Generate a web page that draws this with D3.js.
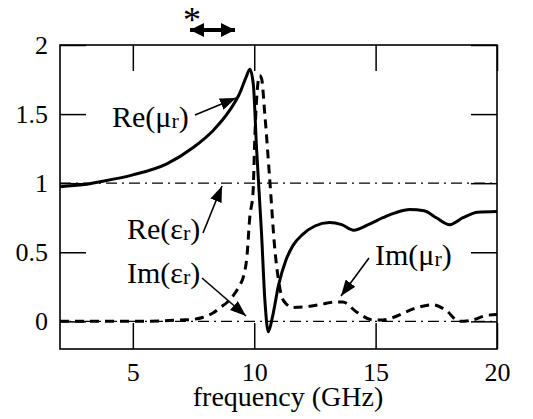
<!DOCTYPE html>
<html>
<head>
<meta charset="utf-8">
<script src="https://cdn.jsdelivr.net/npm/d3@7"></script>
<style>
  body { margin: 0; background: #fff; }
  svg text { font-family: "Liberation Serif", "Times New Roman", serif; }
</style>
</head>
<body>
<div id="chart"></div>
<script>
var svgWidth = 533;
var svgHeight = 419;

// plot box in pixels
var margin = { top: 45, right: 36, bottom: 70, left: 60 };
var width = svgWidth - margin.left - margin.right;
var height = svgHeight - margin.top - margin.bottom;

// Re(mu_r): solid line
var reMuFreq = [2.0, 3.0, 3.65, 5.0, 6.4, 7.5, 8.3, 9.0, 9.4, 9.65, 9.82, 9.96, 10.1, 10.3, 10.44, 10.58, 10.75, 11.0, 11.3, 11.6, 12.0, 12.5, 13.1, 13.6, 14.1, 14.7, 15.3, 15.8, 16.4, 17.0, 17.5, 18.05, 18.6, 19.2, 20.0];
var reMu = [0.975, 0.99, 1.01, 1.06, 1.14, 1.26, 1.38, 1.53, 1.65, 1.76, 1.825, 1.72, 1.24, 0.64, 0.15, -0.075, 0.03, 0.26, 0.44, 0.55, 0.63, 0.69, 0.715, 0.70, 0.66, 0.70, 0.75, 0.785, 0.81, 0.80, 0.75, 0.70, 0.75, 0.79, 0.795];

// Im(mu_r): dashed line
var imMuFreq = [2.0, 5.0, 7.0, 7.5, 7.9, 8.3, 8.6, 8.9, 9.15, 9.4, 9.55, 9.7, 9.82, 9.95, 10.03, 10.15, 10.22, 10.3, 10.44, 10.65, 10.85, 11.0, 11.13, 11.3, 11.6, 12.3, 12.8, 13.3, 13.65, 14.2, 14.9, 15.3, 15.75, 16.55, 17.35, 17.9, 18.45, 19.0, 19.5, 20.0];
var imMu = [0.0, 0.0, 0.01, 0.015, 0.03, 0.06, 0.10, 0.14, 0.19, 0.26, 0.32, 0.47, 0.76, 0.93, 1.36, 1.72, 1.78, 1.76, 1.49, 1.0, 0.52, 0.3, 0.18, 0.13, 0.10, 0.11, 0.125, 0.14, 0.14, 0.07, 0.01, 0.01, 0.03, 0.09, 0.12, 0.08, 0.0, 0.01, 0.04, 0.05];

// Re(eps_r) and Im(eps_r): dash-dot lines
var epsFreq = [2, 20];
var reEps = [1, 1];
var imEps = [0, 0];

var xTicks = [5, 10, 15, 20];
var yTicks = [0, 0.5, 1, 1.5, 2];

var serif = "'Liberation Serif', 'Times New Roman', serif";

var svg = d3.select("#chart")
  .append("svg")
  .attr("width", svgWidth)
  .attr("height", svgHeight);

var chartGroup = svg.append("g")
  .attr("transform", `translate(${margin.left}, ${margin.top})`);

var xScale = d3.scaleLinear().domain([2, 20]).range([0, width]);
var yScale = d3.scaleLinear().domain([-0.2, 2]).range([height, 0]);

// axes with inward ticks on all four sides
var bottomAxis = d3.axisBottom(xScale).tickValues(xTicks).tickSizeInner(-26).tickSizeOuter(0);
var topAxis = d3.axisTop(xScale).tickValues(xTicks).tickSizeInner(-26).tickSizeOuter(0).tickFormat("");
var leftAxis = d3.axisLeft(yScale).tickValues(yTicks).tickSizeInner(-26).tickSizeOuter(0).tickFormat(d3.format(""));
var rightAxis = d3.axisRight(yScale).tickValues(yTicks).tickSizeInner(-26).tickSizeOuter(0).tickFormat("");

var xAxisG = chartGroup.append("g")
  .attr("transform", `translate(0, ${height})`)
  .call(bottomAxis);
chartGroup.append("g").call(topAxis);
var yAxisG = chartGroup.append("g").call(leftAxis);
chartGroup.append("g").attr("transform", `translate(${width}, 0)`).call(rightAxis);

chartGroup.selectAll(".domain").remove();
chartGroup.selectAll("g").attr("font-family", null);
chartGroup.selectAll(".tick line").attr("stroke", "#000").attr("stroke-width", 1.5);

xAxisG.selectAll("text")
  .attr("y", 14)
  .style("font-family", serif)
  .style("font-size", "26px")
  .attr("fill", "#000");

yAxisG.selectAll("text")
  .attr("x", -12)
  .style("font-family", serif)
  .style("font-size", "26px")
  .attr("fill", "#000");

// frame
chartGroup.append("rect")
  .attr("width", width)
  .attr("height", height)
  .attr("fill", "none")
  .attr("stroke", "#000")
  .attr("stroke-width", 1.6);

var line = d3.line()
  .x(d => xScale(d[0]))
  .y(d => yScale(d[1]));

// eps lines
[reEps, imEps].forEach(function(vals) {
  chartGroup.append("path")
    .datum(d3.zip(epsFreq, vals))
    .attr("d", line.curve(d3.curveLinear))
    .attr("fill", "none")
    .attr("stroke", "#000")
    .attr("stroke-width", 1.2)
    .attr("stroke-dasharray", "11,5,2,5");
});

// Im(mu_r)
chartGroup.append("path")
  .datum(d3.zip(imMuFreq, imMu))
  .attr("d", line.curve(d3.curveMonotoneX))
  .attr("fill", "none")
  .attr("stroke", "#000")
  .attr("stroke-width", 3)
  .attr("stroke-dasharray", "9,6");

// Re(mu_r)
chartGroup.append("path")
  .datum(d3.zip(reMuFreq, reMu))
  .attr("d", line.curve(d3.curveMonotoneX))
  .attr("fill", "none")
  .attr("stroke", "#000")
  .attr("stroke-width", 3);

// x axis title
svg.append("text")
  .attr("x", 288)
  .attr("y", 406)
  .attr("text-anchor", "middle")
  .style("font-family", serif)
  .style("font-size", "28px")
  .text("frequency (GHz)");

// arrowhead marker
var defs = svg.append("defs");
defs.append("marker")
  .attr("id", "head")
  .attr("markerUnits", "userSpaceOnUse")
  .attr("viewBox", "0 0 16 12")
  .attr("refX", 16)
  .attr("refY", 6)
  .attr("markerWidth", 16)
  .attr("markerHeight", 12)
  .attr("orient", "auto-start-reverse")
  .append("path")
  .attr("d", "M0,0 L16,6 L0,12 Z")
  .attr("fill", "#000");

// curve labels
var labels = [
  { main: "Re(μ", x: 112, y: 127, ax1: 195, ay1: 115, ax2: 236, ay2: 98 },
  { main: "Re(ε", x: 127, y: 239, ax1: 203, ay1: 233, ax2: 222, ay2: 186 },
  { main: "Im(ε", x: 127, y: 283, ax1: 202, ay1: 278, ax2: 246, ay2: 316 },
  { main: "Im(μ", x: 375, y: 265, ax1: 369, ay1: 258, ax2: 341, ay2: 296 }
];

labels.forEach(function(l) {
  var t = svg.append("text")
    .attr("x", l.x)
    .attr("y", l.y)
    .style("font-family", serif)
    .style("font-size", "30px");
  t.append("tspan").text(l.main);
  t.append("tspan").style("font-size", "22px").attr("dy", 1).text("r");
  t.append("tspan").attr("dy", -1).text(")");

  svg.append("line")
    .attr("x1", l.ax1).attr("y1", l.ay1)
    .attr("x2", l.ax2).attr("y2", l.ay2)
    .attr("stroke", "#000")
    .attr("stroke-width", 1.6)
    .attr("marker-end", "url(#head)");
});

// "*" with double arrow above the plot
svg.append("text")
  .attr("x", 192)
  .attr("y", 32)
  .attr("text-anchor", "middle")
  .style("font-family", serif)
  .style("font-size", "36px")
  .text("*");

defs.append("marker")
  .attr("id", "head2")
  .attr("markerUnits", "userSpaceOnUse")
  .attr("viewBox", "0 0 14 14")
  .attr("refX", 14)
  .attr("refY", 7)
  .attr("markerWidth", 14)
  .attr("markerHeight", 14)
  .attr("orient", "auto-start-reverse")
  .append("path")
  .attr("d", "M0,0 L14,7 L0,14 Z")
  .attr("fill", "#000");

svg.append("line")
  .attr("x1", 190).attr("y1", 30)
  .attr("x2", 235).attr("y2", 30)
  .attr("stroke", "#000")
  .attr("stroke-width", 4)
  .attr("marker-start", "url(#head2)")
  .attr("marker-end", "url(#head2)");
</script>
</body>
</html>
